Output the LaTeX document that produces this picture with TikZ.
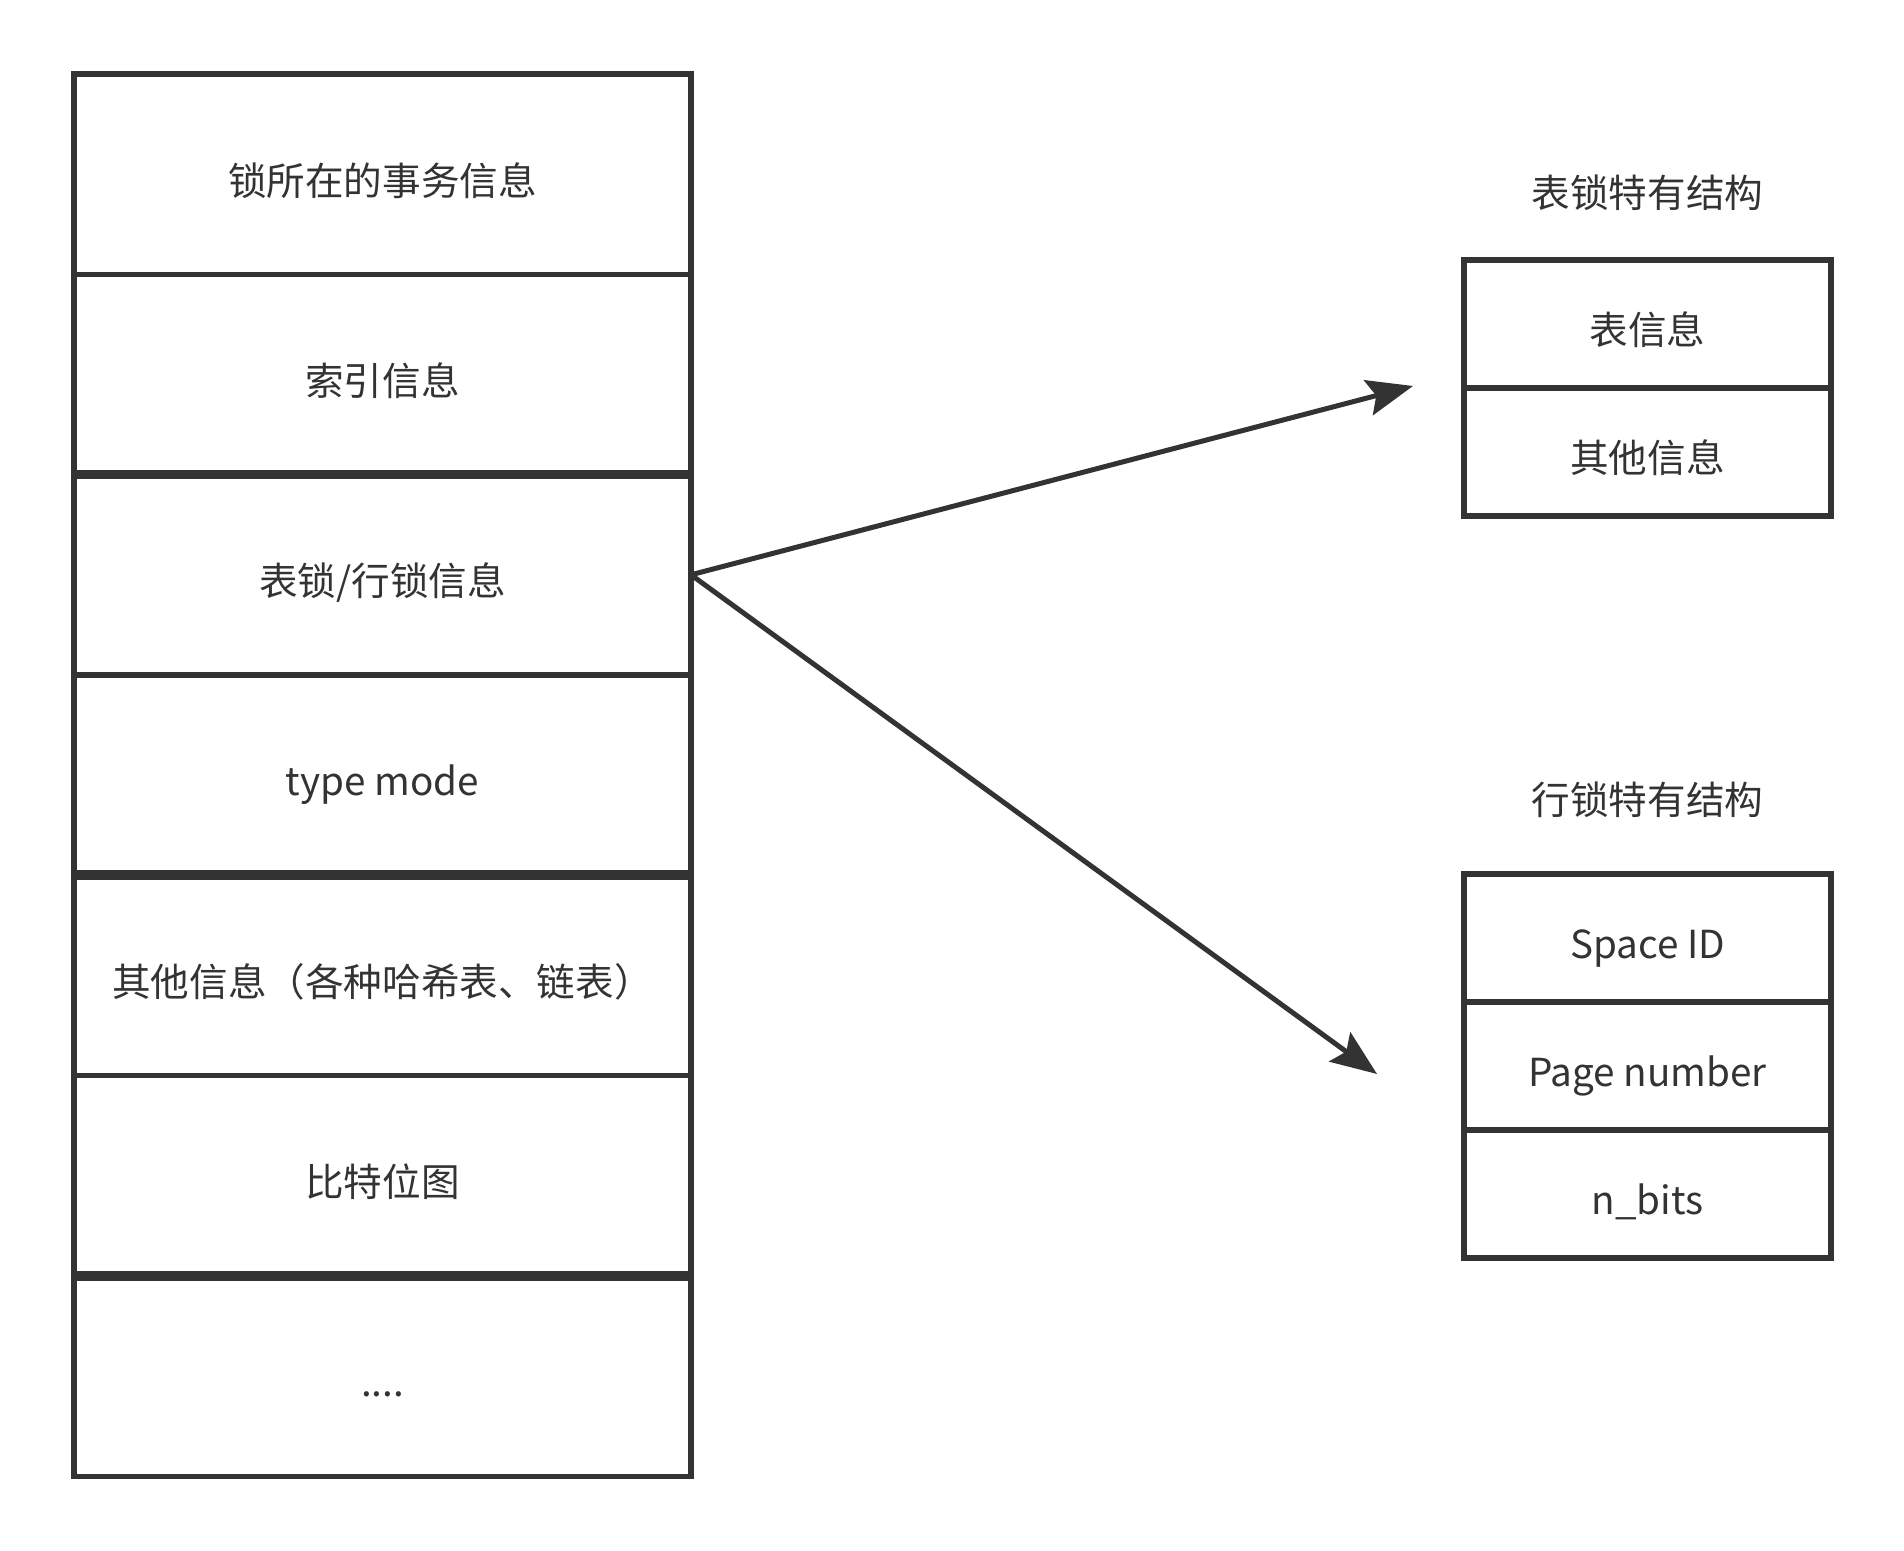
\documentclass[tikz,border=0pt]{standalone}
\usepackage{fontspec}
\setmainfont{Noto Sans CJK SC}
\usetikzlibrary{arrows.meta}
\definecolor{ink}{HTML}{333333}
\begin{document}
\begin{tikzpicture}[x=0.5pt,y=-0.5pt,
  txt/.style={text=ink, inner sep=0pt, outer sep=0pt,
    font=\fontsize{19.3pt}{23pt}\selectfont, text height=2.15em, text depth=0.06em},
  cell/.style={txt, draw=ink, line width=2.6pt, minimum width=308.5pt, minimum height=100.15pt},
  rcell/.style={txt, draw=ink, line width=2.6pt, minimum width=183.5pt, minimum height=64pt},
  sep/.style={draw=ink, line width=4.8pt},
  link/.style={draw=ink, line width=2.5pt, -{Stealth[length=23pt, width=18pt, inset=4pt]}}]
\useasboundingbox (0,0) rectangle (1904,1551);
% left column
\node[cell] (row1) at (382.5,174.2) {锁所在的事务信息};
\node[cell] (row2) at (382.5,374.5) {索引信息};
\node[cell] (row3) at (382.5,574.8) {表锁/行锁信息};
\node[cell] (row4) at (382.5,775.0) {type mode};
\node[cell] (row5) at (382.5,975.4) {其他信息（各种哈希表、链表）};
\node[cell] (row6) at (382.5,1175.7) {比特位图};
\node[cell] (row7) at (382.5,1376.0) {....};
\draw[sep] (row2.south west) -- (row2.south east);
\draw[sep] (row4.south west) -- (row4.south east);
\draw[sep] (row6.south west) -- (row6.south east);
% table lock structure
\node[txt] (ttitle) at (1647.5,187) {表锁特有结构};
\node[rcell] (t1) at (1647.5,324) {表信息};
\node[rcell] (t2) at (1647.5,452) {其他信息};
% row lock structure
\node[txt] (rtitle) at (1647.5,794) {行锁特有结构};
\node[rcell] (r1) at (1647.5,938) {Space ID};
\node[rcell] (r2) at (1647.5,1066) {Page number};
\node[rcell] (r3) at (1647.5,1194) {n\_bits};
% arrows
\coordinate (tabend) at (1413,386);
\coordinate (rowend) at (1377,1074);
\draw[link] (row3.east) -- (tabend);
\draw[link] (row3.east) -- (rowend);
\end{tikzpicture}
\end{document}
